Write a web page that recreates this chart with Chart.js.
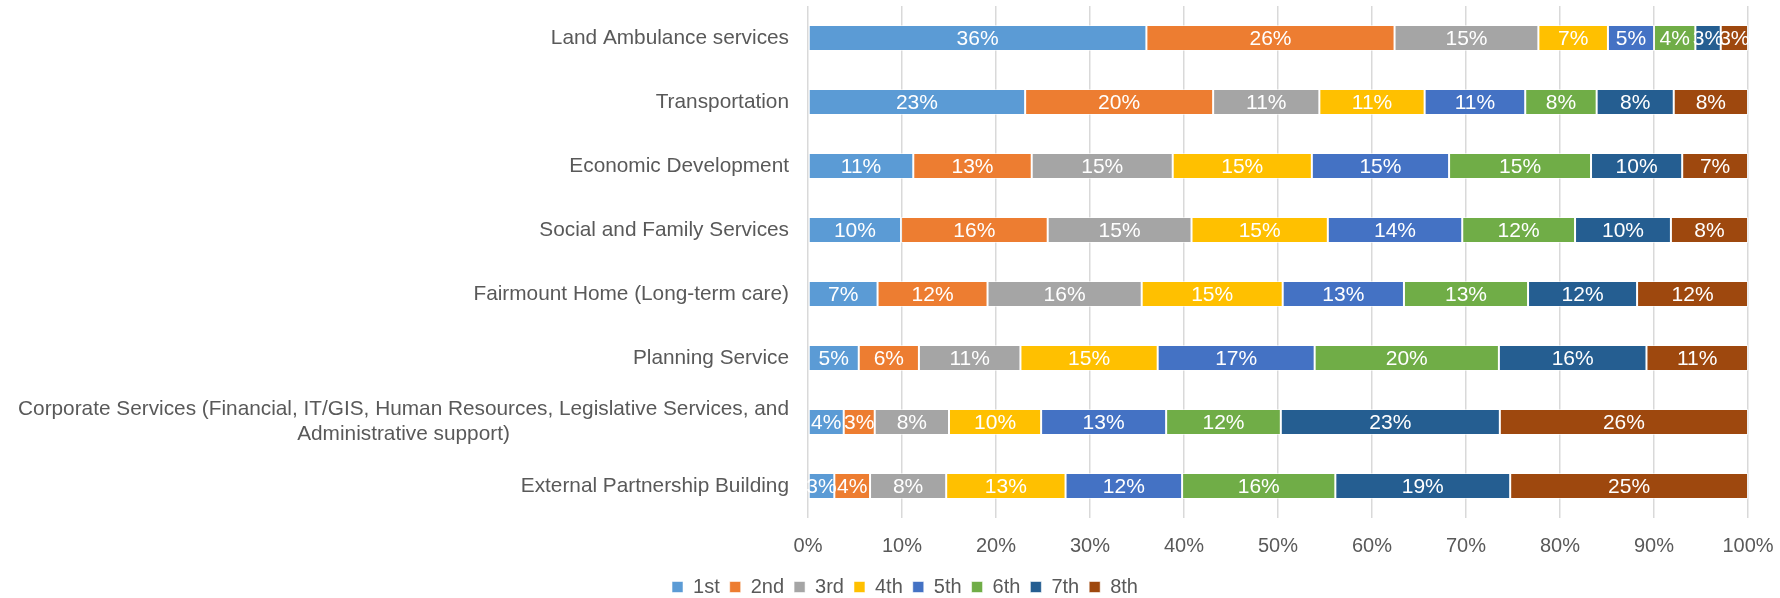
<!DOCTYPE html>
<html>
<head>
<meta charset="utf-8">
<title>Service ranking</title>
<script src="https://cdn.jsdelivr.net/npm/chart.js@4/dist/chart.umd.min.js"></script>
<style>
  html, body { margin: 0; padding: 0; background: #ffffff; }
  #wrap { width: 1780px; height: 598px; position: relative; }
</style>
</head>
<body>
<div id="wrap"><canvas id="rankChart"></canvas></div>
<script>
// Services, top to bottom
var services = [
    "Land Ambulance services",
    "Transportation",
    "Economic Development",
    "Social and Family Services",
    "Fairmount Home (Long-term care)",
    "Planning Service",
    ["Corporate Services (Financial, IT/GIS, Human Resources, Legislative Services, and", "Administrative support)"],
    "External Partnership Building"
];

// Share of respondents (%) giving each rank, one array per rank
var rank1st = [36.0, 23.1, 11.2,  9.9,  7.4,  5.4,  3.8,  2.8];
var rank2nd = [26.4, 20.0, 12.6, 15.6, 11.7,  6.4,  3.3,  3.8];
var rank3rd = [15.3, 11.3, 15.0, 15.3, 16.4, 10.8,  7.9,  8.1];
var rank4th = [ 7.4, 11.2, 14.8, 14.5, 15.0, 14.6,  9.8, 12.7];
var rank5th = [ 4.9, 10.7, 14.6, 14.3, 12.9, 16.7, 13.3, 12.4];
var rank6th = [ 4.4,  7.6, 15.1, 12.0, 13.2, 19.6, 12.2, 16.3];
var rank7th = [ 2.7,  8.2,  9.7, 10.2, 11.6, 15.7, 23.3, 18.6];
var rank8th = [ 2.9,  7.9,  7.0,  8.2, 11.8, 10.8, 26.4, 25.3];

var rankNames = ["1st", "2nd", "3rd", "4th", "5th", "6th", "7th", "8th"];
var rankColors = ["#5B9BD5", "#ED7D31", "#A5A5A5", "#FFC000", "#4472C4", "#70AD47", "#255E91", "#9E480E"];
var rankData = [rank1st, rank2nd, rank3rd, rank4th, rank5th, rank6th, rank7th, rank8th];

var xTicks = [0, 10, 20, 30, 40, 50, 60, 70, 80, 90, 100];

var textColor = "#595959";
var fontFamily = '"Liberation Sans", Arial, sans-serif';

Chart.defaults.font.family = fontFamily;
Chart.defaults.font.size = 20;
Chart.defaults.color = textColor;

var datasets = rankNames.map(function(name, i) {
    return {
        label: name,
        data: rankData[i],
        backgroundColor: rankColors[i],
        borderColor: "rgba(255,255,255,0.55)",
        borderWidth: 1,
        borderSkipped: false,
        categoryPercentage: 0.8,
        barPercentage: 0.51
    };
});

// Percent labels in the middle of every segment
var segmentLabels = {
    id: "segmentLabels",
    afterDatasetsDraw: function(chart) {
        var ctx = chart.ctx;
        ctx.save();
        ctx.font = "21px " + fontFamily;
        ctx.fillStyle = "#ffffff";
        ctx.textAlign = "center";
        ctx.textBaseline = "middle";
        chart.data.datasets.forEach(function(ds, di) {
            var meta = chart.getDatasetMeta(di);
            meta.data.forEach(function(bar, i) {
                var cx = (bar.x + bar.base) / 2;
                ctx.fillText(Math.round(ds.data[i]) + "%", cx, bar.y + 1);
            });
        });
        ctx.restore();
    }
};

// Category names: right aligned, wrapped lines centred on each other
var categoryLabels = {
    id: "categoryLabels",
    afterDraw: function(chart) {
        var ctx = chart.ctx;
        var yScale = chart.scales.y;
        var xRight = chart.chartArea.left - 19;
        ctx.save();
        ctx.font = "20.8px " + fontFamily;
        ctx.fillStyle = textColor;
        ctx.textAlign = "center";
        ctx.textBaseline = "middle";
        chart.data.labels.forEach(function(lab, i) {
            var lines = Array.isArray(lab) ? lab : [lab];
            var widest = 0;
            lines.forEach(function(l) {
                widest = Math.max(widest, ctx.measureText(l).width);
            });
            var y = yScale.getPixelForValue(i);
            lines.forEach(function(l, j) {
                ctx.fillText(l, xRight - widest / 2, y + (j - (lines.length - 1) / 2) * 25);
            });
        });
        ctx.restore();
    }
};

new Chart(document.getElementById("rankChart"), {
    type: "bar",
    data: {
        labels: services,
        datasets: datasets
    },
    options: {
        indexAxis: "y",
        responsive: true,
        maintainAspectRatio: false,
        animation: false,
        layout: {
            // left padding keeps the legend centred where it sits under the chart
            padding: { left: 62, right: 32, top: 6, bottom: -9 }
        },
        scales: {
            x: {
                stacked: true,
                min: 0,
                max: 100,
                afterBuildTicks: function(scale) {
                    scale.ticks = xTicks.map(function(v) { return { value: v }; });
                },
                ticks: {
                    padding: 16,
                    color: textColor,
                    callback: function(v) { return v + "%"; }
                },
                grid: {
                    color: "#D9D9D9",
                    lineWidth: 1.5,
                    drawTicks: false
                },
                border: { display: false },
                afterFit: function(scale) {
                    scale.height = 49;
                    scale.paddingLeft = 0;
                    scale.paddingRight = 0;
                }
            },
            y: {
                stacked: true,
                ticks: { display: false },
                grid: { display: false, drawTicks: false },
                border: { display: false },
                afterFit: function(scale) { scale.width = 746; }
            }
        },
        plugins: {
            legend: {
                position: "bottom",
                labels: {
                    boxWidth: 11,
                    boxHeight: 11,
                    padding: 10,
                    color: textColor,
                    font: { size: 20 }
                }
            },
            tooltip: { enabled: false }
        }
    },
    plugins: [segmentLabels, categoryLabels]
});
</script>
</body>
</html>
